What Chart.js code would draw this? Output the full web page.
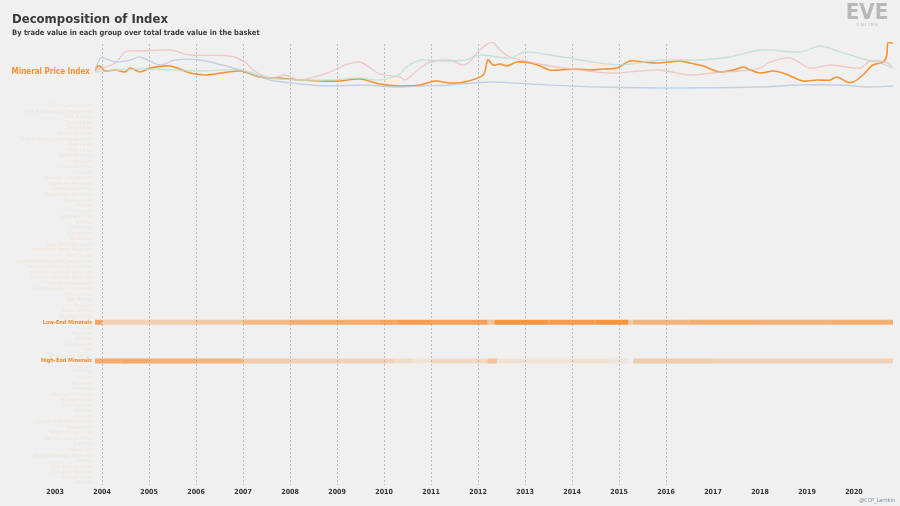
<!DOCTYPE html>
<html><head><meta charset="utf-8">
<script src="https://cdn.jsdelivr.net/npm/chart.js@4"></script>
<style>html,body{margin:0;padding:0;background:#f0f0f0}#c{width:900px;height:506px}</style>
</head><body><div id="c"><canvas id="cv" width="900" height="506"></canvas></div>
<script>
const rowLabels = ["Tech II Components","Tech II Advanced Components","Tech II Ships","Tech I Ships","Tech II Rigs","Tech II Modules","Tech III Subsystem Components","Tech I Rigs","Tech I Ship","Tech I Modules","Implants","Faction Modules","Boosters","Salvage Components","Planetary Materials","Capital Ship Parts","Commodity Materials","Deployables","Drones","Charges","Starbase Fuel","Ice Ore","Datacores","Decryptors","Skillbooks","Raw Moon Materials","Processed Moon Materials","Gas Clouds","Fullerene Composite Components","Advanced Moon Composites","Polymer Reaction Materials","Planetary Refined Materials","Hybrid Components","Construction Components","Ammunition","Fuel Blocks","Salvage","Ships Wrecks","Structure Parts","Low-End Minerals","Isogen","Nocxium","Zydrine","Ice Products","Gas","Booster Gas Clouds","High-End Minerals","Megacyte","Morphite","Pyerite","Tritanium","Mexallon","Abyssal Filaments","Mutaplasmids","Skill Injectors","Frigates","Cruisers","Capital Ship Components","Battleships","Rogue Drone Parts","Sleeper Components","Carriers","Industrials","Ancient Salvage Materials","Limited","Ship Skin Licenses","Structure Modules","Faction Ships","Apparel"];

const mineralYears = [2003.85,2003.91,2003.98,2004.06,2004.28,2004.49,2004.60,2004.81,2005.02,2005.45,2005.87,2006.19,2006.40,2006.94,2007.36,2007.79,2008.21,2008.64,2009.06,2009.49,2009.91,2010.34,2010.77,2011.09,2011.40,2011.72,2012.11,2012.21,2012.32,2012.47,2012.62,2012.83,2013.11,2013.32,2013.53,2013.74,2014.11,2014.38,2014.66,2014.96,2015.23,2015.51,2015.81,2016.09,2016.30,2016.51,2016.79,2017.00,2017.15,2017.43,2017.64,2017.79,2018.00,2018.28,2018.49,2018.70,2018.91,2019.21,2019.49,2019.64,2019.85,2019.98,2020.19,2020.40,2020.62,2020.70,2020.72,2020.81,2020.83];
const mineralIndex = [29,34,33,29,30,28,32,28,32,34,27,25,26,29,23,22,20,19,19,21,16,14,15,19,17,18,25,40,35,36,34,38,37,34,30,30,31,30,31,32,39,38,37,38,39,37,34,30,28,30,33,30,27,29,27,23,19,20,20,23,18,18,25,35,38,45,57,57,57];

const pinkYears = [2003.85,2004.28,2004.49,2004.81,2005.45,2005.87,2006.72,2007.04,2007.21,2007.57,2007.89,2008.21,2008.85,2009.17,2009.49,2009.91,2010.34,2010.45,2010.77,2010.98,2011.40,2011.72,2012.04,2012.30,2012.47,2012.68,2013.11,2013.53,2014.17,2014.81,2015.45,2015.87,2016.51,2017.15,2017.57,2018.00,2018.21,2018.64,2019.06,2019.49,2020.13,2020.34,2020.66,2020.83];
const pinkIndex = [29,37,48,49,50,45,44,38,30,22,25,20,28,35,38,26,23,20,32,38,40,35,50,58,50,43,38,34,30,27,29,30,25,28,29,32,38,42,32,35,32,39,38,33];

const greenYears = [2003.85,2004.81,2006.09,2006.94,2007.57,2008.21,2008.85,2009.49,2009.91,2010.34,2010.45,2010.77,2011.19,2011.72,2012.04,2012.68,2013.00,2013.53,2014.17,2015.02,2015.87,2016.72,2017.36,2018.00,2018.85,2019.28,2019.70,2020.13,2020.55,2020.83];
const greenIndex = [28,31,29,30,22,20,20,22,20,26,32,40,39,40,45,42,48,45,40,35,40,40,43,50,48,54,48,42,37,32];

const blueYears = [2003.85,2003.98,2004.28,2004.60,2004.81,2005.23,2005.55,2006.09,2006.94,2007.57,2008.21,2008.85,2009.49,2010.34,2010.77,2011.40,2012.26,2013.11,2014.60,2016.30,2018.00,2018.85,2019.70,2020.34,2020.83];
const blueIndex = [30,42,38,40,43,35,40,40,30,20,16,14,15,13,14,15,18,16,13,12,13,15,15,13,14];

const lowEndYears = [2003.85,2004.0,2005.0,2006.0,2007.0,2008.0,2009.0,2009.9,2010.3,2011.0,2012.2,2012.35,2013.5,2014.5,2015.2,2015.3,2016.5,2018.0,2019.5,2020.83];
const lowEndShare = [0.75,0.3,0.33,0.4,0.55,0.65,0.68,0.75,0.85,0.78,0.45,0.9,0.85,0.92,0.35,0.6,0.65,0.62,0.65,0.65];
const highEndYears = [2003.85,2004.4,2005.0,2006.0,2007.0,2008.0,2009.0,2010.2,2010.6,2011.0,2011.8,2012.2,2012.4,2013.0,2014.0,2014.8,2015.2,2015.3,2017.0,2019.0,2020.83];
const highEndShare = [0.7,0.72,0.65,0.6,0.35,0.3,0.3,0.2,0.12,0.25,0.22,0.45,0.15,0.12,0.15,0.1,0,0.35,0.3,0.3,0.3];
const yearTicks = [2003,2004,2005,2006,2007,2008,2009,2010,2011,2012,2013,2014,2015,2016,2017,2018,2019,2020];
const gridYears = [2004,2005,2006,2007,2008,2009,2010,2011,2012,2013,2014,2015,2016];

const FONT = "'DejaVu Sans Condensed','DejaVu Sans',sans-serif";
const pts = (xs, ys) => xs.map((x,i)=>({x, y: ys[i]}));
const heat = (xs, vs, label) => xs.map((x,i)=>({x, y: label, v: vs[i]}));
const heatDs = (data) => ({type:'line', data, yAxisID:'yRow', stepped:'after', borderWidth:5, borderCapStyle:'butt', pointRadius:0,
  segment:{borderColor: c => c.p0.raw.v > 0 ? `rgba(247,140,50,${c.p0.raw.v})` : 'rgba(0,0,0,0)'}, borderColor:'rgba(247,140,50,0.5)'});
const lineDs = (data,color,w) => ({type:'line', data, yAxisID:'yLine', borderColor:color, borderWidth:w, pointRadius:0, tension:0.3});

const deco = {
  id:'deco',
  beforeDatasetsDraw(chart){
    const {ctx} = chart, xs = chart.scales.x;
    ctx.save(); ctx.strokeStyle='rgba(150,150,150,0.7)'; ctx.lineWidth=0.8; ctx.setLineDash([2,2]);
    gridYears.forEach(y=>{const px=Math.round(xs.getPixelForValue(y))+0.5; ctx.beginPath(); ctx.moveTo(px,44); ctx.lineTo(px,485); ctx.stroke();});
    ctx.restore();
  },
  afterDraw(chart){
    const {ctx} = chart, xs = chart.scales.x;
    ctx.save();
    ctx.fillStyle='#3a3a3a'; ctx.textBaseline='alphabetic';
    ctx.font=`bold 13px ${FONT}`; ctx.fillText('Decomposition of Index',12,23);
    ctx.font=`bold 7.5px ${FONT}`; ctx.fillText('By trade value in each group over total trade value in the basket',12,35);
    ctx.fillStyle='#333'; ctx.font=`bold 7px ${FONT}`; ctx.textAlign='center';
    yearTicks.forEach(y=>ctx.fillText(String(y), xs.getPixelForValue(y), 494));
    ctx.fillStyle='#7a8aa0'; ctx.font=`5.5px ${FONT}`; ctx.textAlign='right'; ctx.fillText('@CCP_Larrikin',895,502);
    ctx.fillStyle='#b8b8b8'; ctx.font=`bold 22px ${FONT}`; ctx.textAlign='center'; ctx.fillText('EVE',867,19);
    ctx.font=`4.5px ${FONT}`; ctx.fillText('O N L I N E',867,26);
    ctx.restore();
  }
};

new Chart(document.getElementById('cv'), {
  data:{datasets:[
    lineDs(pts(blueYears,blueIndex),'rgba(180,198,222,0.75)',1.3),
    lineDs(pts(greenYears,greenIndex),'rgba(180,222,210,0.75)',1.3),
    lineDs(pts(pinkYears,pinkIndex),'rgba(238,185,185,0.75)',1.3),
    lineDs(pts(mineralYears,mineralIndex),'#f7922e',1.6),
    heatDs(heat(lowEndYears,lowEndShare,'Low-End Minerals')),
    heatDs(heat(highEndYears,highEndShare,'High-End Minerals')),
  ]},
  options:{
    responsive:false, animation:false, devicePixelRatio:1,
    layout:{padding:{top:42,bottom:23,right:7,left:0}},
    plugins:{legend:{display:false},tooltip:{enabled:false}},
    scales:{
      x:{type:'linear',min:2003.85,max:2020.83,display:false},
      yRow:{type:'category',labels:rowLabels,stack:'v',stackWeight:377,position:'left',offset:false,
        afterFit(s){s.width=95;},
        grid:{display:false, drawTicks:false, tickLength:0}, border:{display:false},
        ticks:{autoSkip:false, padding:3,
          color: c => (c.tick && (c.tick.label==='Low-End Minerals'||c.tick.label==='High-End Minerals')) ? '#f08a2a' : 'rgba(240,170,110,0.18)',
          font: c => ({family:FONT,size:(c.tick && /-End Minerals/.test(c.tick.label))?5.5:5, weight:(c.tick && /-End Minerals/.test(c.tick.label))?'bold':'normal'})}},
      yLine:{type:'linear',min:-6,max:58,stack:'v',stackWeight:64,position:'left',
        afterFit(s){s.width=95;}, afterBuildTicks(s){s.ticks=[{value:28}];},
        grid:{display:false, drawTicks:false, tickLength:0}, border:{display:false},
        ticks:{callback:()=> 'Mineral Price Index', color:'#f7922e', font:{family:FONT,size:8,weight:'bold'}, padding:5}}
    }
  },
  plugins:[deco]
});
</script></body></html>
